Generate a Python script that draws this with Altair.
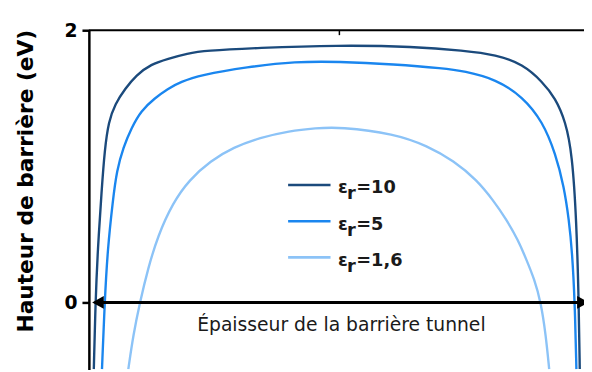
import altair as alt
import pandas as pd

# ---- data (x: barrier position, y: barrier height in eV)
x_er10 = [0.60, 0.94, 1.40, 2.20, 2.80, 3.60, 4.94, 6.94, 9.20, 12.20, 15.60, 19.60, 23.20, 33.60,
          50.00, 65.60, 75.60, 82.20, 87.60, 91.60, 94.20, 96.26, 97.60, 98.46, 98.94, 99.14]
y_er10 = [-0.49, 0.00, 0.39, 0.83, 1.12, 1.33, 1.46, 1.57, 1.67, 1.75, 1.79, 1.83, 1.85, 1.87,
          1.89, 1.88, 1.85, 1.82, 1.75, 1.62, 1.50, 1.33, 1.09, 0.61, 0.00, -0.49]

x_er5 = [2.26, 2.80, 3.40, 4.46, 5.26, 6.60, 8.20, 10.20, 12.94, 15.60, 18.20, 22.20, 31.60, 41.60,
         50.00, 61.60, 71.60, 75.60, 82.20, 87.60, 91.60, 94.26, 95.94, 96.94, 97.60, 98.14, 98.46]
y_er5 = [-0.49, 0.00, 0.39, 0.75, 0.97, 1.14, 1.28, 1.41, 1.50, 1.57, 1.62, 1.67, 1.73, 1.77,
         1.77, 1.75, 1.72, 1.70, 1.64, 1.51, 1.33, 1.09, 0.85, 0.61, 0.37, 0.00, -0.49]

x_er16 = [7.60, 8.60, 9.94, 11.60, 13.60, 16.60, 19.94, 24.26, 28.94, 34.26, 40.26, 45.60, 50.40,
          61.60, 68.26, 73.60, 78.26, 81.60, 84.26, 86.60, 88.26, 89.94, 91.26, 92.26, 92.94]
y_er16 = [-0.49, -0.24, 0.00, 0.25, 0.49, 0.73, 0.90, 1.04, 1.14, 1.21, 1.26, 1.28, 1.29,
          1.24, 1.15, 1.04, 0.90, 0.75, 0.61, 0.46, 0.32, 0.17, 0.00, -0.24, -0.49]

series = ["10", "5", "1,6"]
colors = ["#1b4a7c", "#1a86ef", "#8cc3f7"]

y_ticks = [0, 2]
y_title = "Hauteur de barrière (eV)"
x_label = "Épaisseur de la barrière tunnel"

rows = []
for name, xs, ys in zip(series, [x_er10, x_er5, x_er16], [y_er10, y_er5, y_er16]):
    for xv, yv in zip(xs, ys):
        rows.append({"x": xv, "y": yv, "serie": name})
df = pd.DataFrame(rows)
one = pd.DataFrame({"k": [0]})

xscale = alt.Scale(domain=[-0.4, 99.6], nice=False, zero=False)
yscale = alt.Scale(domain=[-0.493, 2], nice=False, zero=False)

curves = alt.Chart(df).mark_line(strokeWidth=2.4, interpolate="basis", clip=True).encode(
    x=alt.X("x:Q", scale=xscale, axis=None),
    y=alt.Y("y:Q", scale=yscale, title=y_title,
            axis=alt.Axis(values=y_ticks, format="d", grid=False,
                          domainColor="black", domainWidth=2.5,
                          tickColor="black", tickWidth=2.5, tickSize=7,
                          labelFont="DejaVu Sans", labelFontWeight="bold", labelFontSize=19,
                          labelColor="black", labelPadding=5,
                          titleFont="DejaVu Sans", titleFontWeight="bold", titleFontSize=22,
                          titleColor="black", titleX=-57, titleY=152.5,
                          titleBaseline="alphabetic", titleAlign="center", titleAngle=270)),
    color=alt.Color("serie:N", scale=alt.Scale(domain=series, range=colors), legend=None),
)

top_line = alt.Chart(one).mark_rule(color="black", strokeWidth=2).encode(
    x=alt.value(0), x2=alt.value(502), y=alt.value(0))
top_tick = alt.Chart(one).mark_rule(color="black", strokeWidth=1.5).encode(
    x=alt.value(254), y=alt.value(0), y2=alt.value(5))

zero_y = 276
arrow_line = alt.Chart(one).mark_rule(color="black", strokeWidth=3).encode(
    x=alt.value(6), x2=alt.value(499), y=alt.value(zero_y))
head_r = alt.Chart(one).mark_point(shape="M-0.9,-1L0.9,0L-0.9,1Z", filled=True, size=169,
                                   color="black", opacity=1, strokeWidth=0).encode(
    x=alt.value(500.9), y=alt.value(zero_y))
head_l = alt.Chart(one).mark_point(shape="M0.9,-1L-0.9,0L0.9,1Z", filled=True, size=169,
                                   color="black", opacity=1, strokeWidth=0).encode(
    x=alt.value(9.2), y=alt.value(zero_y))

xlab = alt.Chart(one).mark_text(text=x_label, font="DejaVu Sans", fontSize=19, color="#1a1a1a",
                                align="center", baseline="alphabetic").encode(
    x=alt.value(256), y=alt.value(305))

legend_layers = []
for i, (name, col) in enumerate(zip(series, colors)):
    ly = 157 + i * 36.65
    legend_layers.append(alt.Chart(one).mark_rule(color=col, strokeWidth=2.6).encode(
        x=alt.value(202), x2=alt.value(245), y=alt.value(ly)))
    legend_layers.append(alt.Chart(one).mark_text(text="ε", font="DejaVu Sans", fontWeight="bold",
                                                  fontSize=18, color="#1a1a1a", align="left",
                                                  baseline="alphabetic").encode(
        x=alt.value(252.5), y=alt.value(ly + 8.5)))
    legend_layers.append(alt.Chart(one).mark_text(text="r", font="DejaVu Sans", fontWeight="bold",
                                                  fontSize=18, color="#1a1a1a", align="left",
                                                  baseline="alphabetic").encode(
        x=alt.value(261.8), y=alt.value(ly + 14.5)))
    legend_layers.append(alt.Chart(one).mark_text(text="=" + name, font="DejaVu Sans", fontWeight="bold",
                                                  fontSize=18, color="#1a1a1a", align="left",
                                                  baseline="alphabetic").encode(
        x=alt.value(271), y=alt.value(ly + 8.5)))

chart = alt.layer(curves, top_line, top_tick, arrow_line, head_r, head_l, xlab, *legend_layers).properties(
    width=500, height=344,
    autosize=alt.AutoSizeParams(type="none"),
    padding={"left": 82, "top": 20, "right": 2, "bottom": 0},
    background="white",
).configure_view(stroke=None)

chart.save("out.html", embed_options={"renderer": "svg", "actions": False})
